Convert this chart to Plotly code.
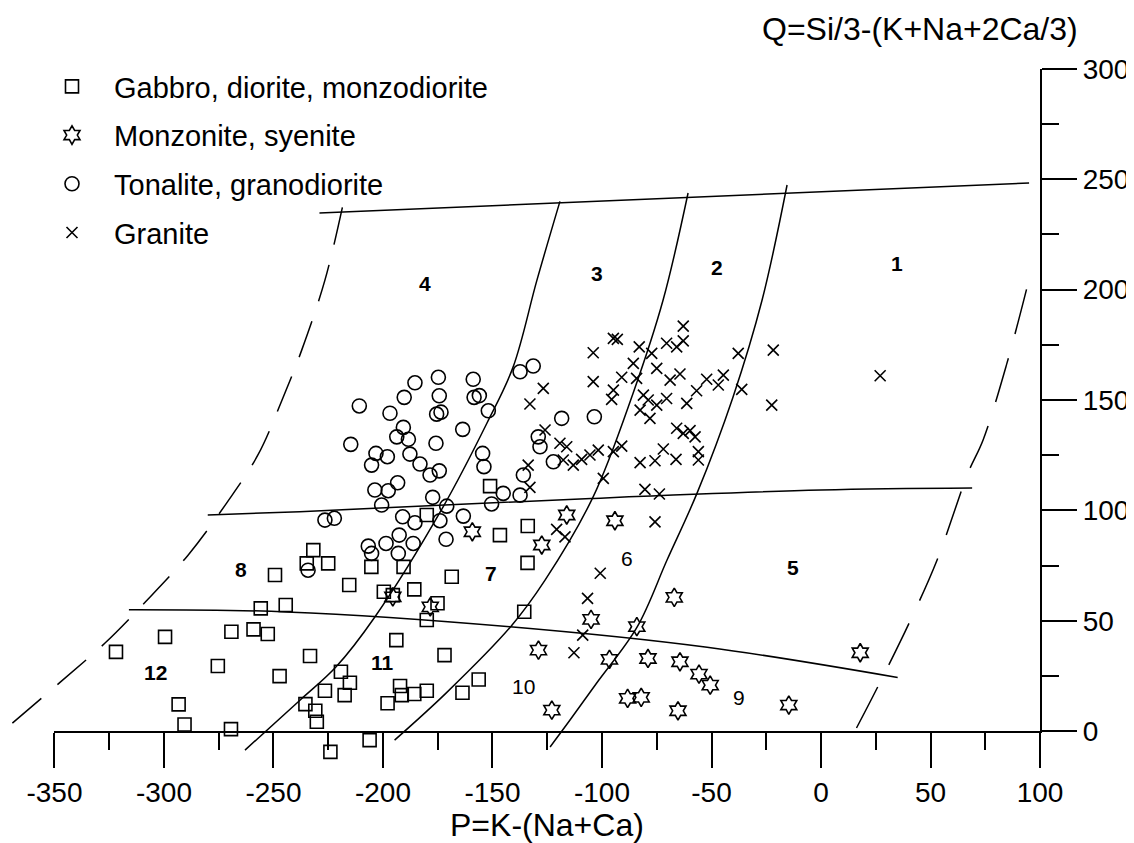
import plotly.graph_objects as go

# o <body> da pagina tem 8px de margem: a figura fica um pouco menor que a janela
PAGE_OFF = 8
W, H = 1134 - PAGE_OFF, 843 - PAGE_OFF

# janela do desenho em unidades P / Q (a area util ocupa a figura toda)
X_LO, X_HI = -371.2, 142.9
Y_LO, Y_HI = -50.7, 327.6


def paper_x(px):
    return (px - PAGE_OFF) / W


def paper_y(py):
    return 1 - (py - PAGE_OFF) / H


# ---- amostras ----
gabbro_p = [-249.3, -231.8, -234.8, -225.0, -205.3, -190.6, -168.6, -215.4, -199.6, -195.5,
            -185.7, -175.1, -180.0, -255.8, -244.4, -299.5, -269.2, -259.1, -252.6, -193.9,
            -171.9, -135.5, -321.9, -275.4, -233.3, -247.2, -219.2, -215.1, -226.5, -217.5,
            -235.4, -230.9, -230.2, -192.2, -191.4, -185.7, -180.0, -197.9, -163.7, -156.3,
            -293.3, -290.6, -269.4, -224.0, -206.1, -151.1, -180.0, -146.6, -133.9, -134.0]
gabbro_q = [70.7, 82.0, 76.0, 76.0, 74.4, 74.4, 69.9, 66.2, 63.1, 61.6,
            64.2, 57.9, 50.3, 55.6, 57.1, 42.7, 45.0, 46.1, 44.0, 41.2,
            34.4, 54.1, 35.9, 29.5, 34.0, 24.9, 26.9, 21.9, 18.3, 16.3,
            12.2, 9.2, 4.2, 20.4, 16.3, 16.8, 18.3, 12.6, 17.4, 23.4,
            12.1, 3.0, 0.9, -9.4, -4.1, 111.0, 97.9, 88.8, 92.9, 76.2]

monzonite_p = [-159.2, -116.1, -94.1, -127.5, -195.5, -178.4, -129.0, -122.9, -67.0, -105.0,
               -84.1, -96.6, -79.0, -64.4, -55.7, -50.6, -88.3, -82.1, -65.3, -14.7, 17.9]
monzonite_q = [90.3, 97.9, 95.3, 84.3, 60.8, 56.3, 36.7, 9.5, 60.6, 50.6,
               47.3, 32.5, 32.9, 31.4, 25.8, 20.8, 14.8, 15.3, 9.2, 11.8, 35.5]

tonalite_p = [-210.8, -185.4, -174.7, -158.8, -190.3, -174.3, -158.4, -156.0, -196.8, -175.5,
              -173.5, -151.9, -131.4, -137.4, -163.6, -190.7, -193.7, -188.4, -175.8, -214.7,
              -203.2, -198.0, -205.2, -187.7, -183.1, -178.5, -174.3, -154.5, -153.9, -203.7,
              -197.6, -193.3, -200.6, -177.3, -170.9, -150.4, -145.1, -137.4, -135.9, -122.2,
              -118.4, -129.1, -128.3, -103.5, -226.5, -222.2, -191.0, -185.4, -174.0, -163.3,
              -192.6, -186.2, -206.7, -198.6, -171.2, -193.0, -205.2, -234.2]
tonalite_q = [147.3, 157.8, 160.3, 159.4, 151.2, 151.9, 151.2, 152.0, 144.0, 143.6,
              144.5, 145.1, 165.4, 162.8, 136.7, 137.6, 133.3, 132.2, 130.4, 129.9,
              125.8, 124.3, 120.5, 125.5, 121.0, 116.0, 117.9, 125.8, 119.8, 109.2,
              108.9, 112.5, 102.4, 105.9, 101.9, 102.9, 107.7, 106.9, 116.0, 122.0,
              141.7, 133.3, 128.8, 142.4, 95.6, 96.4, 97.1, 94.4, 95.3, 97.4,
              88.8, 85.0, 83.8, 85.0, 86.9, 80.5, 80.5, 72.9]

granite_p = [-126.8, -132.9, -104.0, -94.8, -93.0, -83.0, -77.3, -70.5, -62.9, -62.9,
             -65.9, -104.0, -91.0, -85.7, -84.2, -75.0, -68.9, -64.4, -94.8, -95.6,
             -81.1, -78.9, -75.0, -70.5, -82.6, -78.1, -61.3, -56.8, -52.2, -46.9,
             -44.6, -37.8, -36.2, -21.8, -22.5, -126.0, -119.2, -116.1, -117.7, -113.1,
             -109.3, -105.5, -101.7, -94.8, -91.0, -99.4, -133.7, -132.9, -65.9, -62.9,
             -59.8, -57.5, -72.0, -75.8, -82.6, -66.2, -56.0, -56.0, -80.4, -73.8,
             -75.8, -100.8, -106.6, -108.8, -112.8, -120.7, -116.9, 27.0]
granite_q = [155.3, 148.2, 171.4, 177.9, 177.5, 174.1, 171.1, 175.7, 183.5, 176.8,
             174.1, 158.3, 160.3, 166.6, 159.8, 164.3, 159.0, 161.8, 154.5, 150.3,
             152.2, 150.0, 147.7, 150.7, 145.4, 141.7, 148.5, 154.2, 159.4, 156.8,
             161.3, 171.1, 154.8, 172.6, 147.7, 136.4, 130.4, 128.8, 122.8, 120.5,
             123.1, 125.1, 127.3, 126.6, 129.1, 114.5, 120.5, 110.4, 137.2, 134.9,
             136.1, 133.3, 127.8, 122.5, 121.6, 123.1, 126.6, 122.8, 109.5, 107.4,
             94.8, 71.5, 60.1, 43.5, 35.5, 91.4, 88.0, 161.0]

# ---- limites dos campos ----
top_p = [-229, 95]
top_q = [234.7, 248.3]
mid_p = [-280, -238, -105, 0, 69]
mid_q = [97.9, 99.4, 105.4, 109.2, 110.1]
low_p = [-316, -244, -142, -52, 35]
low_q = [55.0, 54.0, 47.3, 38.0, 24.3]

curve_a_p = [-263, -237.9, -221.5, -203.7, -172.6, -152.5, -140.6, -129.7, -119.2]
curve_a_q = [-8.6, 14, 29, 51.7, 101.5, 139.6, 164.9, 204.3, 240]
curve_b_p = [-194.7, -171.2, -141.7, -126, -104.1, -85.8, -72.1, -60.7]
curve_b_q = [-4.1, 17.2, 47.3, 68.4, 106, 153.1, 195.3, 243.8]
curve_c_p = [-123.7, -114.6, -102.5, -84, -70.3, -56.6, -40.2, -26.9, -15.5]
curve_c_q = [-7.2, 5, 21.7, 47.1, 77.5, 107.8, 151.3, 195.3, 247.4]

dash_left_p = [-369.2, -347.2, -326.9, -308.4, -289, -271.4, -257.1, -245.7, -237.1, -226.5, -218.3]
dash_left_q = [3.6, 22.3, 39.9, 58.6, 79.7, 103.3, 125.1, 150.9, 172.6, 204.3, 238.3]
dash_right_p = [16.2, 26.3, 40.5, 53, 67.1, 74, 84.9, 94.1]
dash_right_q = [1.4, 20.8, 49.5, 77.5, 116.9, 131.9, 166.7, 201.2]

region_txt = ['<b>1</b>', '<b>2</b>', '<b>3</b>', '<b>4</b>', '<b>5</b>', '6', '<b>7</b>',
              '<b>8</b>', '9', '10', '<b>11</b>', '<b>12</b>']
region_p = [34.7, -47.5, -102.3, -180.8, -13, -88.6, -150.7, -264.8, -37.4, -136, -200, -303.7]
region_q = [212, 210.2, 207.5, 203, 74.3, 78.4, 71.6, 73, 15, 20, 31.3, 26.7]

x_ticks = [-350, -300, -250, -200, -150, -100, -50, 0, 50, 100]
x_tick_text = ['-350', '-300', '-250', '-200', '-150', '-100', '-50', '0', '50', '100']
y_ticks = [0, 50, 100, 150, 200, 250, 300]
y_tick_text = ['0', '50', '100', '150', '200', '250', '300']

FONT = 'Liberation Sans, Arial, sans-serif'

fig = go.Figure()

# linhas dos campos
for xs, ys in [(top_p, top_q), (mid_p, mid_q), (low_p, low_q),
               (curve_a_p, curve_a_q), (curve_b_p, curve_b_q), (curve_c_p, curve_c_q)]:
    fig.add_trace(go.Scatter(x=xs, y=ys, mode='lines', line=dict(color='black', width=1.5, shape='spline'),
                             showlegend=False, hoverinfo='skip'))
fig.add_trace(go.Scatter(x=dash_left_p, y=dash_left_q, mode='lines',
                         line=dict(color='black', width=1.5, shape='spline', dash='38px,21px'),
                         showlegend=False, hoverinfo='skip'))
fig.add_trace(go.Scatter(x=dash_right_p, y=dash_right_q, mode='lines',
                         line=dict(color='black', width=1.5, shape='spline', dash='46px,25px'),
                         showlegend=False, hoverinfo='skip'))

series = [
    ('Gabbro, diorite, monzodiorite', gabbro_p, gabbro_q, 'square-open', 13),
    ('Monzonite, syenite', monzonite_p, monzonite_q, 'hexagram-open', 14),
    ('Tonalite, granodiorite', tonalite_p, tonalite_q, 'circle-open', 14),
    ('Granite', granite_p, granite_q, 'x-thin-open', 11),
]
for i, (name, xs, ys, sym, sz) in enumerate(series):
    fig.add_trace(go.Scatter(x=xs, y=ys, mode='markers', name=name, legendgroup=f'g{i}',
                             marker=dict(symbol=sym, size=sz, color='black',
                                         line=dict(color='black', width=1.6))))

# eixos desenhados num subplot proprio, com a mesma escala
dom_x = [(-350 - X_LO) / (X_HI - X_LO), (100 - X_LO) / (X_HI - X_LO)]
dom_y = [(0 - Y_LO) / (Y_HI - Y_LO), (300 - Y_LO) / (Y_HI - Y_LO)]
fig.add_trace(go.Scatter(x=[None], y=[None], xaxis='x2', yaxis='y2', showlegend=False, hoverinfo='skip'))

tick_font = dict(family=FONT, size=28, color='black')
minor = dict(dtick=25, ticks='outside', ticklen=17, tickwidth=2, tickcolor='black')

for r_txt, rp, rq in zip(region_txt, region_p, region_q):
    fig.add_annotation(x=rp, y=rq, text=r_txt, showarrow=False,
                       font=dict(family=FONT, size=21, color='black'))

fig.add_annotation(x=paper_x(920), y=paper_y(29), xref='paper', yref='paper', showarrow=False,
                   xanchor='center', yanchor='middle',
                   text='Q=Si/3-(K+Na+2Ca/3)', font=dict(family=FONT, size=32, color='black'))
fig.add_annotation(x=paper_x(547), y=paper_y(825), xref='paper', yref='paper', showarrow=False,
                   xanchor='center', yanchor='middle',
                   text='P=K-(Na+Ca)', font=dict(family=FONT, size=32, color='black'))

fig.update_layout(
    width=W, height=H,
    margin=dict(l=0, r=0, t=0, b=0, pad=0, autoexpand=False),
    paper_bgcolor='white', plot_bgcolor='rgba(0,0,0,0)',
    xaxis=dict(range=[X_LO, X_HI], visible=False, domain=[0, 1], automargin=False),
    yaxis=dict(range=[Y_LO, Y_HI], visible=False, domain=[0, 1], automargin=False),
    xaxis2=dict(range=[-350, 100], domain=dom_x, anchor='y2', showline=True, linecolor='black',
                linewidth=2, ticks='outside', ticklen=35, tickwidth=2, tickcolor='black',
                tickvals=x_ticks, ticktext=x_tick_text, minor=minor, showgrid=False,
                zeroline=False, tickfont=tick_font, automargin=False),
    yaxis2=dict(range=[0, 300], domain=dom_y, anchor='x2', side='right', showline=True,
                linecolor='black', linewidth=2, ticks='outside', ticklen=35, tickwidth=2,
                tickcolor='black', tickvals=y_ticks, ticktext=y_tick_text, minor=minor,
                showgrid=False, zeroline=False, tickfont=tick_font, automargin=False),
    legend=dict(x=paper_x(30), y=paper_y(61), xanchor='left', yanchor='top', bgcolor='rgba(0,0,0,0)',
                font=dict(family=FONT, size=29, color='black'), itemwidth=74, tracegroupgap=8),
    showlegend=True,
)

fig.write_html('out.html')
